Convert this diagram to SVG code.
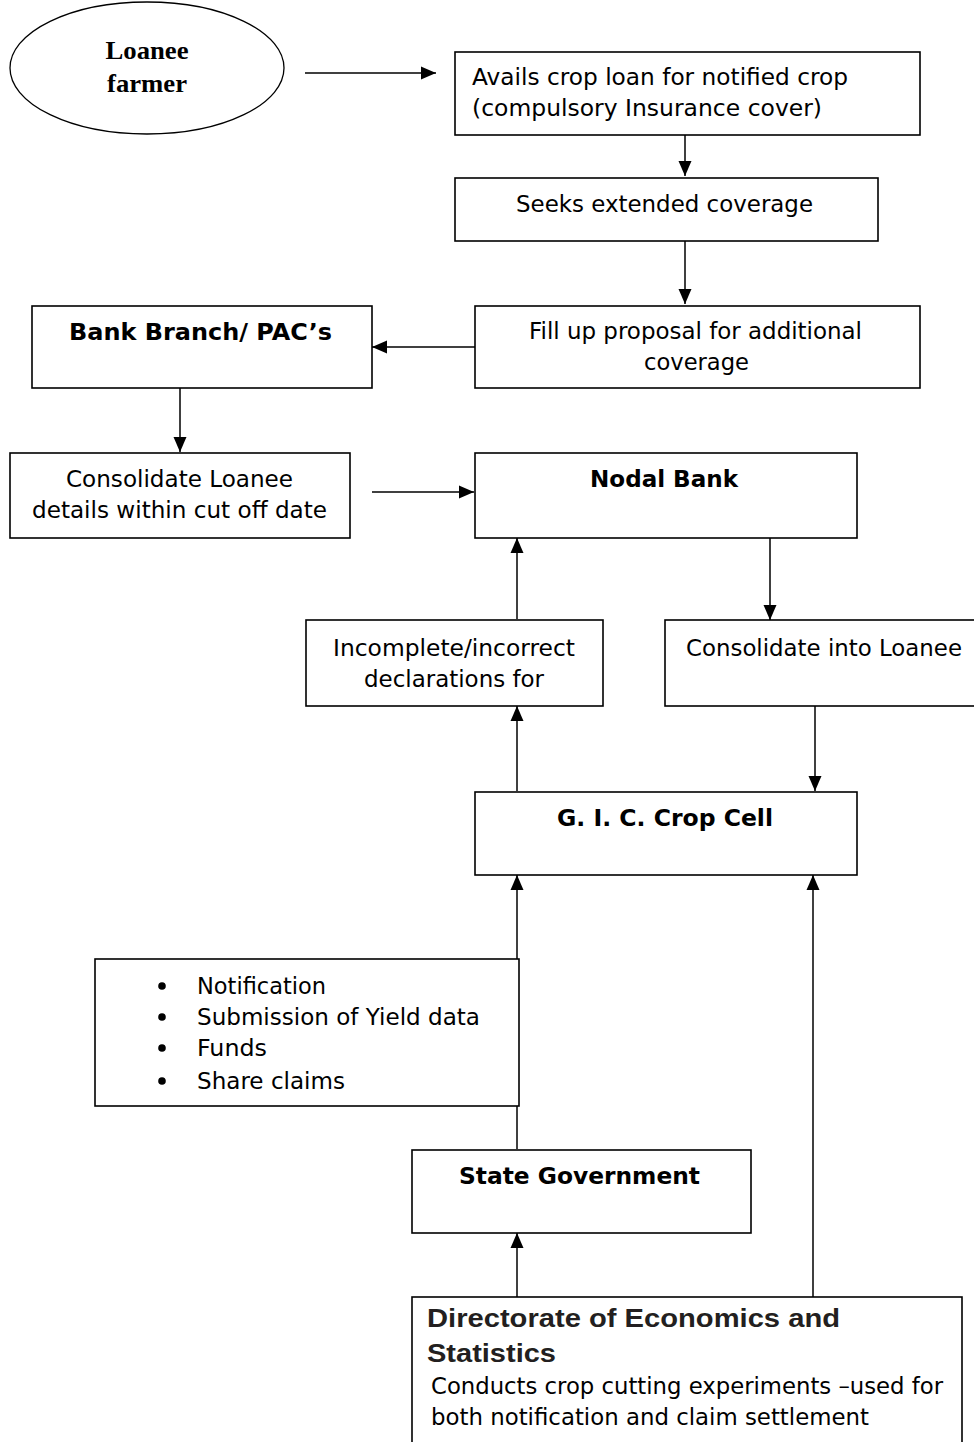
<svg xmlns="http://www.w3.org/2000/svg" width="974" height="1442" viewBox="0 0 974 1442">
<defs>
<marker id="ah" markerUnits="userSpaceOnUse" markerWidth="18" markerHeight="16" refX="15" refY="8" orient="auto">
<path d="M0,1.5 L15,8 L0,14.5 Z" fill="#000"/>
</marker>
<style>
.box{fill:#fff;stroke:#000;stroke-width:1.6}
.t{font-family:"DejaVu Sans","Verdana",sans-serif;font-size:23px;fill:#000}
.b{font-family:"DejaVu Sans","Verdana",sans-serif;font-size:23px;font-weight:bold;fill:#000}
.s{font-family:"Liberation Serif","Times New Roman",serif;font-size:26px;font-weight:bold;fill:#000}
.h{font-family:"Liberation Sans",Arial,sans-serif;font-size:26px;font-weight:bold;fill:#231f20}
.c{stroke:#000;stroke-width:1.5;fill:none}
</style>
</defs>
<rect width="974" height="1442" fill="#fff"/>
<g id="connectors">
<line class="c" x1="305" y1="73" x2="436" y2="73" marker-end="url(#ah)"/>
<line class="c" x1="685" y1="135" x2="685" y2="176" marker-end="url(#ah)"/>
<line class="c" x1="685" y1="241" x2="685" y2="304" marker-end="url(#ah)"/>
<line class="c" x1="475" y1="347" x2="372" y2="347" marker-end="url(#ah)"/>
<line class="c" x1="180" y1="388" x2="180" y2="452" marker-end="url(#ah)"/>
<line class="c" x1="372" y1="492" x2="474" y2="492" marker-end="url(#ah)"/>
<line class="c" x1="770" y1="538" x2="770" y2="620" marker-end="url(#ah)"/>
<line class="c" x1="517" y1="619" x2="517" y2="538" marker-end="url(#ah)"/>
<line class="c" x1="517" y1="791" x2="517" y2="706" marker-end="url(#ah)"/>
<line class="c" x1="815" y1="706" x2="815" y2="791" marker-end="url(#ah)"/>
<line class="c" x1="517" y1="1149" x2="517" y2="875" marker-end="url(#ah)"/>
<line class="c" x1="813" y1="1297" x2="813" y2="875" marker-end="url(#ah)"/>
<line class="c" x1="517" y1="1297" x2="517" y2="1233" marker-end="url(#ah)"/>
</g>
<g id="loanee">
<ellipse cx="147" cy="68" rx="137" ry="66" fill="#fff" stroke="#000" stroke-width="1.3"/>
<text class="s" x="147" y="59" text-anchor="middle" textLength="83" lengthAdjust="spacingAndGlyphs">Loanee</text>
<text class="s" x="147" y="92" text-anchor="middle" textLength="80" lengthAdjust="spacingAndGlyphs">farmer</text>
</g>
<g id="avails">
<rect class="box" x="455" y="52" width="465" height="83"/>
<text class="t" x="472" y="85" textLength="376" lengthAdjust="spacingAndGlyphs">Avails crop loan for notified crop</text>
<text class="t" x="472" y="116" textLength="350" lengthAdjust="spacingAndGlyphs">(compulsory Insurance cover)</text>
</g>
<g id="seeks">
<rect class="box" x="455" y="178" width="423" height="63"/>
<text class="t" x="516" y="212" textLength="297" lengthAdjust="spacingAndGlyphs">Seeks extended coverage</text>
</g>
<g id="fillup">
<rect class="box" x="475" y="306" width="445" height="82"/>
<text class="t" x="529" y="339" textLength="333" lengthAdjust="spacingAndGlyphs">Fill up proposal for additional</text>
<text class="t" x="644" y="370" textLength="105" lengthAdjust="spacingAndGlyphs">coverage</text>
</g>
<g id="bankbranch">
<rect class="box" x="32" y="306" width="340" height="82"/>
<text class="b" x="69" y="340" textLength="263" lengthAdjust="spacingAndGlyphs">Bank Branch/ PAC’s</text>
</g>
<g id="consolidate-loanee">
<rect class="box" x="10" y="453" width="340" height="85"/>
<text class="t" x="66" y="487" textLength="227" lengthAdjust="spacingAndGlyphs">Consolidate Loanee</text>
<text class="t" x="32" y="518" textLength="295" lengthAdjust="spacingAndGlyphs">details within cut off date</text>
</g>
<g id="nodalbank">
<rect class="box" x="475" y="453" width="382" height="85"/>
<text class="b" x="590" y="487" textLength="148" lengthAdjust="spacingAndGlyphs">Nodal Bank</text>
</g>
<g id="incomplete">
<rect class="box" x="306" y="620" width="297" height="86"/>
<text class="t" x="333" y="656" textLength="242" lengthAdjust="spacingAndGlyphs">Incomplete/incorrect</text>
<text class="t" x="364" y="687" textLength="180" lengthAdjust="spacingAndGlyphs">declarations for</text>
</g>
<g id="consolidate-into">
<rect class="box" x="665" y="620" width="320" height="86"/>
<text class="t" x="686" y="656" textLength="276" lengthAdjust="spacingAndGlyphs">Consolidate into Loanee</text>
</g>
<g id="gic">
<rect class="box" x="475" y="792" width="382" height="83"/>
<text class="b" x="557" y="826" textLength="216" lengthAdjust="spacingAndGlyphs">G. I. C. Crop Cell</text>
</g>
<g id="bullets">
<rect class="box" x="95" y="959" width="424" height="147"/>
<circle cx="162" cy="986" r="3.8"/>
<circle cx="162" cy="1017" r="3.8"/>
<circle cx="162" cy="1048" r="3.8"/>
<circle cx="162" cy="1081" r="3.8"/>
<text class="t" x="197" y="994" textLength="129" lengthAdjust="spacingAndGlyphs">Notification</text>
<text class="t" x="197" y="1025" textLength="283" lengthAdjust="spacingAndGlyphs">Submission of Yield data</text>
<text class="t" x="197" y="1056" textLength="70" lengthAdjust="spacingAndGlyphs">Funds</text>
<text class="t" x="197" y="1089" textLength="148" lengthAdjust="spacingAndGlyphs">Share claims</text>
</g>
<g id="stategov">
<rect class="box" x="412" y="1150" width="339" height="83"/>
<text class="b" x="459" y="1184" textLength="241" lengthAdjust="spacingAndGlyphs">State Government</text>
</g>
<g id="directorate">
<rect class="box" x="412" y="1297" width="550" height="160"/>
<text class="h" x="427" y="1327" textLength="413" lengthAdjust="spacingAndGlyphs">Directorate of Economics and</text>
<text class="h" x="427" y="1362" textLength="129" lengthAdjust="spacingAndGlyphs">Statistics</text>
<text class="t" x="431" y="1394" textLength="512" lengthAdjust="spacingAndGlyphs">Conducts crop cutting experiments –used for</text>
<text class="t" x="431" y="1425" textLength="438" lengthAdjust="spacingAndGlyphs">both notification and claim settlement</text>
</g>
</svg>
